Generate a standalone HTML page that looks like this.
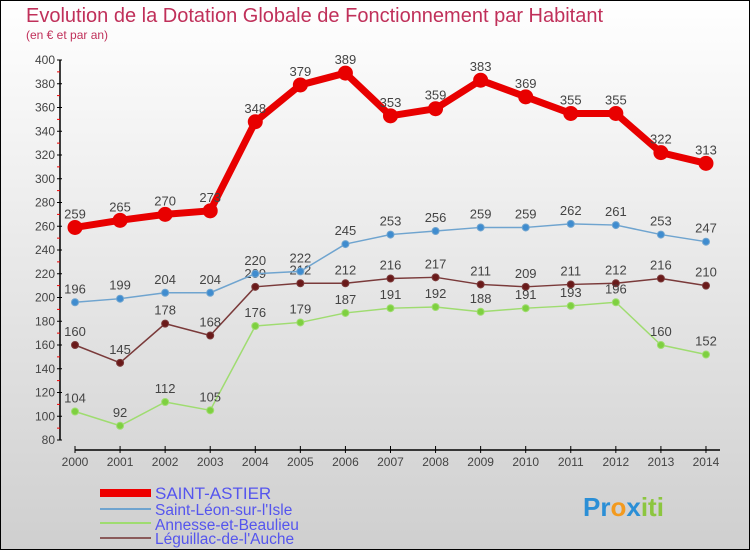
<!DOCTYPE html>
<html><head><meta charset="utf-8"><style>
body{margin:0}
#c{width:750px;height:550px;position:relative;overflow:hidden;font-family:"Liberation Sans","DejaVu Sans",sans-serif}
</style></head><body>
<div id="c">
<svg id="s" width="750" height="550" xmlns="http://www.w3.org/2000/svg">
<defs><linearGradient id="bg" x1="0" y1="0" x2="0" y2="1"><stop offset="0" stop-color="#ffffff"/><stop offset="1" stop-color="#cfcfcf"/></linearGradient></defs>
<rect x="0.5" y="0.5" width="749" height="549" fill="url(#bg)" stroke="#000"/>
<text x="26" y="22" font-size="20" fill="#c0305a">Evolution de la Dotation Globale de Fonctionnement par Habitant</text>
<text x="26" y="39" font-size="12" fill="#c0305a">(en € et par an)</text>
<g id="axes"></g><g id="series"></g>
<g>
<rect x="100" y="489" width="51" height="8" fill="#e00"/>
<text x="155" y="499" font-size="17" fill="#5555ee">SAINT-ASTIER</text>
<rect x="100" y="508" width="51" height="2" fill="#6fa4cf"/>
<text x="155" y="515" font-size="15.5" fill="#5555ee">Saint-Léon-sur-l'Isle</text>
<rect x="100" y="522" width="51" height="2" fill="#9fdc70"/>
<text x="155" y="530" font-size="15.5" fill="#5555ee">Annesse-et-Beaulieu</text>
<rect x="100" y="537" width="51" height="2" fill="#8a5a5a"/>
<text x="155" y="544" font-size="15.5" fill="#5555ee">Léguillac-de-l'Auche</text>
</g>
<text x="583" y="516" font-size="26" font-weight="bold"><tspan fill="#2b8fd6">Pr</tspan><tspan fill="#f39a1e">o</tspan><tspan fill="#2b8fd6">x</tspan><tspan fill="#8cc63f">iti</tspan></text>
</svg>
</div>
<script>
const years=[2000,2001,2002,2003,2004,2005,2006,2007,2008,2009,2010,2011,2012,2013,2014];
const saintAstier=[259,265,270,273,348,379,389,353,359,383,369,355,355,322,313];
const saintLeon=[196,199,204,204,220,222,245,253,256,259,259,262,261,253,247];
const annesse=[104,92,112,105,176,179,187,191,192,188,191,193,196,160,152];
const leguillac=[160,145,178,168,209,212,212,216,217,211,209,211,212,216,210];
const yTicks=[80,100,120,140,160,180,200,220,240,260,280,300,320,340,360,380,400];
const NS="http://www.w3.org/2000/svg";
const X=i=>75+i*45.07, Y=v=>440-(v-80)*1.1875;
function mk(tag,attrs,parent){const e=document.createElementNS(NS,tag);for(const k in attrs)e.setAttribute(k,attrs[k]);parent.appendChild(e);return e;}
const ax=document.getElementById('axes'), sg=document.getElementById('series');
let yl=mk('line',{x1:60,y1:60,x2:60,y2:440,stroke:'#000','stroke-width':1.5},ax);


yTicks.forEach(v=>{
 mk('line',{x1:57,x2:62,y1:Y(v),y2:Y(v),stroke:'#000'},ax);
 if(v<400) mk('line',{x1:57,x2:60,y1:Y(v+10),y2:Y(v+10),stroke:'#e00'},ax);
 const t=mk('text',{x:55,y:Y(v)+4,'font-size':12,fill:'#444','text-anchor':'end'},ax);t.textContent=v;
 
 
});
let xl=mk('line',{x1:75,y1:450,x2:720,y2:450,stroke:'#000','stroke-width':1.5},ax);


years.forEach((yr,i)=>{
 mk('line',{x1:X(i),x2:X(i),y1:446,y2:453,stroke:'#000'},ax);
 const t=mk('text',{x:X(i),y:466,'font-size':12,fill:'#444','text-anchor':'middle'},ax);t.textContent=yr;
 
 
});
function series(vals,color,dot,w,r,name){
 const g=mk('g',{},sg);
 
 
 mk('polyline',{points:vals.map((v,i)=>X(i)+','+Y(v)).join(' '),fill:'none',stroke:color,'stroke-width':w,'stroke-linejoin':'round'},g);
 vals.forEach((v,i)=>{
  const c=mk('circle',{cx:X(i),cy:Y(v),r:r,fill:dot,stroke:color,'stroke-width':1},g);
  
  
  const t=mk('text',{x:X(i),y:Y(v)-9,'font-size':13,fill:'#444','text-anchor':'middle'},g);t.textContent=v;
  
  
 });
}
series(leguillac,'#7a3a3a','#6a1a1a',1.5,3.5,'series-leguillac');
series(annesse,'#9fdc70','#7ed040',1.5,3.5,'series-annesse');
series(saintLeon,'#6fa4cf','#3f8ccf',1.5,3.5,'series-saint-leon');
series(saintAstier,'#e80000','#e80000',7,7,'series-saint-astier');
</script>
</body></html>
